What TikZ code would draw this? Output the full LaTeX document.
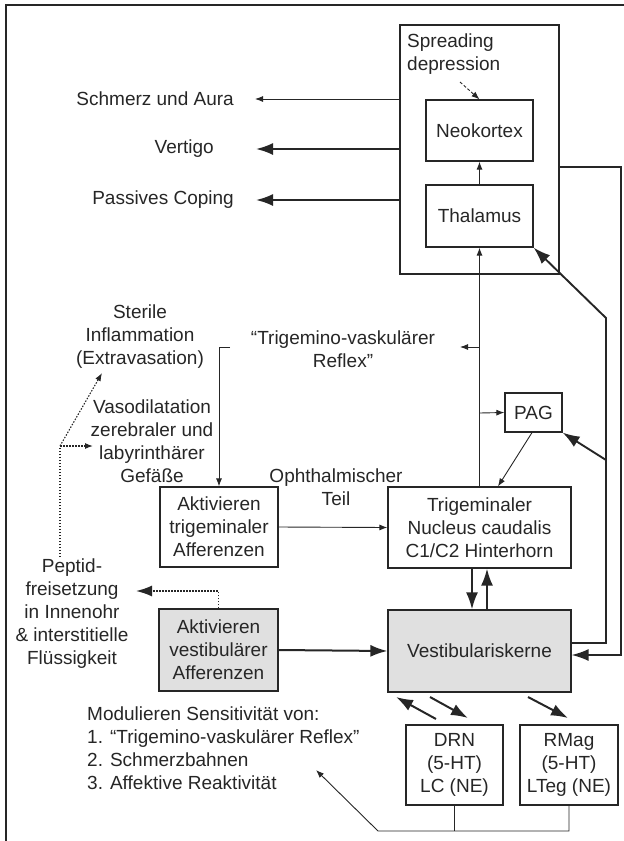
\documentclass[tikz,border=0pt]{standalone}
\usepackage{fontspec}
\setmainfont{Liberation Sans}
\usetikzlibrary{arrows.meta}
\begin{document}
\begin{tikzpicture}[x=1pt,y=-1pt, color=black!85,
 every node/.style={font=\fontsize{19}{23}\selectfont, inner sep=0pt},
 box/.style={draw, line width=1.2pt, align=center},
 txt/.style={align=center},
 thinarr/.style={line width=0.9pt, -{Latex[length=8pt,width=6pt]}},
 thickarr/.style={line width=2pt, -{Latex[length=17pt,width=12pt]}},
 dots/.style={line width=1.1pt, dash pattern=on 1.5pt off 1.5pt},
]
\useasboundingbox (0,0) rectangle (624,841);
\draw[line width=1.5pt] (6,841) -- (6,5) -- (624,5);

% brain block
\node[box, minimum width=159pt, minimum height=249pt] (brain) at (479.5,149.5) {};
\node[box, minimum width=107pt, minimum height=61pt] (neo) at (479.5,130.5) {Neokortex};
\node[box, minimum width=107pt, minimum height=62pt] (thal) at (479.5,216) {Thalamus};
\node[anchor=west, align=left] (spread) at (407,54) {Spreading\\depression};

\node[anchor=east] (schm) at (234,99) {Schmerz und Aura};
\node[anchor=east] (vert) at (214,149) {Vertigo};
\node[anchor=east] (pass) at (234,200) {Passives Coping};

% boxes
\node[box, minimum width=57pt, minimum height=39pt] (pag) at (533.5,412.5) {PAG};
\node[box, minimum width=183pt, minimum height=81pt] (trig) at (479.5,527.5) {Trigeminaler\\Nucleus caudalis\\C1/C2 Hinterhorn};
\node[box, fill=black!12, minimum width=183pt, minimum height=82pt] (vest) at (479.5,651) {Vestibulariskerne};
\node[box, minimum width=118pt, minimum height=80pt] (aktT) at (219,527) {Aktivieren\\trigeminaler\\Afferenzen};
\node[box, fill=black!12, minimum width=119pt, minimum height=82pt] (aktV) at (218.5,650) {Aktivieren\\vestibulärer\\Afferenzen};
\node[box, minimum width=97pt, minimum height=80pt] (drn) at (454.5,765) {DRN\\(5-HT)\\LC (NE)};
\node[box, minimum width=98pt, minimum height=80pt] (rmag) at (569,765) {RMag\\(5-HT)\\LTeg (NE)};

% free texts
\node[txt] (tvr) at (343,349) {“Trigemino-vaskulärer\\Reflex”};
\node[txt] (ster) at (140,337) {Sterile\\Inflammation\\(Extravasation)};
\node[txt] (vaso) at (152,441.5) {Vasodilatation\\zerebraler und\\labyrinthärer\\Gefäße};
\node[txt] (oph) at (336,487) {Ophthalmischer\\Teil};
\node[txt] (pep) at (72,614) {Peptid-\\freisetzung\\in Innenohr\\\& interstitielle\\Flüssigkeit};
\node[anchor=west, align=left] (mod) at (87,748) {Modulieren Sensitivität von:\\1. “Trigemino-vaskulärer Reflex”\\2. Schmerzbahnen\\3. Affektive Reaktivität};

% coordinates
\coordinate (sd) at (460,82);
\coordinate (r1) at (479.5,347);
\coordinate (r1t) at (460,347);
\coordinate (p1) at (479.5,413);
\coordinate (br) at (230,347);
\coordinate (pepTip) at (136,591);
\coordinate (rb1) at (621,167);
\coordinate (rb2) at (621,655);
\coordinate (l1) at (606,643);
\coordinate (l2) at (606,318);
\coordinate (l3) at (606,460);
\coordinate (u1s) at (436,719);
\coordinate (u1t) at (396,697);
\coordinate (u2s) at (430,697);
\coordinate (u2t) at (468,718);
\coordinate (u3s) at (528,697);
\coordinate (u3t) at (568,718);
\coordinate (bl) at (378,831);
\coordinate (bt) at (316,770);
\coordinate (d0) at (60,557);
\coordinate (d1) at (60,446);
\coordinate (d2) at (93,446);
\coordinate (d3) at (102,373);

% connectors
\draw[thinarr] (thal) -- (neo);
\draw[thinarr, dash pattern=on 3pt off 2pt] (sd) -- (neo.north);
\draw[thinarr] (trig.north) -- (thal.south);
\draw[thinarr] (r1) -- (r1t);
\draw[thinarr] (p1) -- (pag.west);
\draw[thinarr] ([xshift=-1.5pt]pag.south) -- ([xshift=18.5pt]trig.north);
\draw[thinarr] (br) -| (aktT.north);
\draw[thinarr] (aktT.east) -- (trig.west);
\draw[thickarr] ([xshift=-7.5pt]trig.south) -- ([xshift=-7.5pt]vest.north);
\draw[thickarr] ([xshift=7.5pt]vest.north) -- ([xshift=7.5pt]trig.south);
\draw[thickarr] (aktV.east) -- (vest.west);
\draw[dots, line width=1.6pt, -{Latex[length=16pt,width=11pt]}] (aktV.north) |- (pepTip);

\draw[thinarr] (brain.west |- schm) -- ([xshift=21pt]schm.east);
\draw[thickarr] (brain.west |- vert) -- ([xshift=42pt]vert.east);
\draw[thickarr] (brain.west |- pass) -- ([xshift=22pt]pass.east);

\draw[thickarr, line width=1.6pt] (brain.east |- rb1) -- (rb1) -- (rb2) -- (vest.east |- rb2);
\draw[thickarr, line width=1.9pt] (vest.east |- l1) -- (l1) -- (l2) -- (thal.south east);
\draw[thickarr, line width=1.9pt] (l3) -- (pag.south east);

\draw[thickarr] (u1s) -- (u1t);
\draw[thickarr] (u2s) -- (u2t);
\draw[thickarr] (u3s) -- (u3t);

\draw[line width=0.9pt] (drn.south) -- (drn.south |- bl);
\draw[thinarr] (rmag.south) |- (bl) -- (bt);

\draw[dots, -{Latex[length=8pt,width=6pt]}] (d0) -- (d1) -- (d2);
\draw[dots, -{Latex[length=8pt,width=6pt]}] (d1) -- (d3);
\end{tikzpicture}
\end{document}
